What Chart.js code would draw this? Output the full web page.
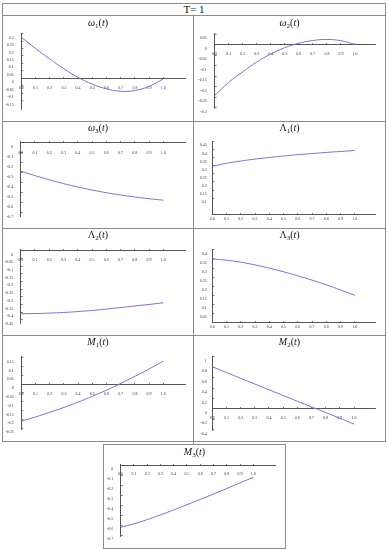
<!DOCTYPE html>
<html><head><meta charset="utf-8">
<script src="https://cdn.jsdelivr.net/npm/chart.js@4/dist/chart.umd.min.js"></script>
<style>
html,body{margin:0;padding:0;background:#fff;}
body{width:388px;height:550px;position:relative;overflow:hidden;font-family:"Liberation Serif","DejaVu Serif",serif;color:#111;}
.ln{position:absolute;background:#8c8c8c;}
.cell{position:absolute;}
.cell canvas{position:absolute;left:0;top:0;}
.ttl{position:absolute;text-align:center;font-size:10px;line-height:10px;white-space:nowrap;transform:translate(-50%,-50%);}
.ttl sub{font-size:7px;vertical-align:-2px;line-height:0;}
.hdr{position:absolute;left:194px;top:9px;transform:translate(-50%,-50%);font-size:11px;line-height:11px;white-space:nowrap;}
</style>
</head><body>
<div class="hdr">T= 1</div>
<script>
// ---- data ----
const tValues = [0, 0.1, 0.2, 0.3, 0.4, 0.5, 0.6, 0.7, 0.8, 0.9, 1.0];
const omega1  = [0.275, 0.200, 0.130, 0.063, 0.005, -0.040, -0.072, -0.088, -0.083, -0.055, -0.005];
const omega2  = [-0.242, -0.180, -0.130, -0.083, -0.045, -0.015, 0.006, 0.019, 0.024, 0.018, 0.000];
const omega3  = [-0.285, -0.330, -0.372, -0.410, -0.444, -0.474, -0.501, -0.524, -0.544, -0.561, -0.576];
const lambda1 = [0.296, 0.315, 0.329, 0.341, 0.351, 0.360, 0.368, 0.375, 0.382, 0.388, 0.394];
const lambda2 = [-0.410, -0.409, -0.406, -0.402, -0.396, -0.389, -0.380, -0.370, -0.360, -0.350, -0.339];
const lambda3 = [0.350, 0.343, 0.332, 0.317, 0.299, 0.279, 0.257, 0.233, 0.207, 0.179, 0.149];
const m1      = [-0.210, -0.186, -0.160, -0.132, -0.102, -0.069, -0.034, 0.004, 0.044, 0.086, 0.130];
const m2      = [0.810, 0.698, 0.587, 0.477, 0.367, 0.258, 0.149, 0.040, -0.068, -0.177, -0.290];
const m3      = [-0.623, -0.588, -0.546, -0.499, -0.449, -0.397, -0.344, -0.290, -0.235, -0.179, -0.123];

const xTicks  = [0, 0.1, 0.2, 0.3, 0.4, 0.5, 0.6, 0.7, 0.8, 0.9, 1.0];
const yTicks1 = [0.3, 0.25, 0.2, 0.15, 0.1, 0.05, 0, -0.05, -0.1, -0.15];
const yTicks2 = [0.05, 0, -0.05, -0.1, -0.15, -0.2, -0.25, -0.3];
const yTicks3 = [0, -0.1, -0.2, -0.3, -0.4, -0.5, -0.6, -0.7];
const yTicks4 = [0.45, 0.4, 0.35, 0.3, 0.25, 0.2, 0.15, 0.1];
const yTicks5 = [0, -0.05, -0.1, -0.15, -0.2, -0.25, -0.3, -0.35, -0.4, -0.45];
const yTicks6 = [0.4, 0.35, 0.3, 0.25, 0.2, 0.15, 0.1, 0.05];
const yTicks7 = [0.15, 0.1, 0.05, 0, -0.05, -0.1, -0.15, -0.2, -0.25];
const yTicks8 = [1, 0.8, 0.6, 0.4, 0.2, 0, -0.2, -0.4];
const yTicks9 = [0, -0.1, -0.2, -0.3, -0.4, -0.5, -0.6, -0.7];

const titles = [
  '<i>ω</i><sub>1</sub>(<i>t</i>)', '<i>ω</i><sub>2</sub>(<i>t</i>)', '<i>ω</i><sub>3</sub>(<i>t</i>)',
  'Λ<sub>1</sub>(<i>t</i>)', 'Λ<sub>2</sub>(<i>t</i>)', 'Λ<sub>3</sub>(<i>t</i>)',
  '<i>M</i><sub>1</sub>(<i>t</i>)', '<i>M</i><sub>2</sub>(<i>t</i>)', '<i>M</i><sub>3</sub>(<i>t</i>)'
];

// ---- layout (page pixels) ----
const lines = [
  [2,3,384,1],[2,441,384,1],[2,3,1,439],[385,3,1,439],
  [2,15,384,1],[2,121,384,1],[2,228,384,1],[2,335,384,1],
  [193,15,1,430],
  [103,444,183,1],[103,548,183,1],[103,444,1,105],[285,444,1,105]
];
lines.forEach(([x,y,w,h])=>{
  const d=document.createElement('div'); d.className='ln';
  d.style.cssText=`left:${x}px;top:${y}px;width:${w}px;height:${h}px`;
  document.body.appendChild(d);
});

const panels = [
  {vals:omega1,  yt:yTicks1, cell:[3,16,190,105],   area:{l:21.3,t:33,r:185,b:115},      y:[-0.208,0.304], xMax:1.153, ty:23,    xPad:9,   yGap:9.5},
  {vals:omega2,  yt:yTicks2, cell:[194,16,191,105], area:{l:214.7,t:33.9,r:375.7,b:112.1}, y:[-0.305,0.0505], xMax:1.148, ty:23, xPad:9,   yGap:10},
  {vals:omega3,  yt:yTicks3, cell:[3,122,190,106],  area:{l:20.7,t:141.6,r:185,b:220},   y:[-0.735,0.01], xMax:1.152, ty:127.5, xPad:9.5, yGap:9.5},
  {vals:lambda1, yt:yTicks4, cell:[194,122,191,106],area:{l:212.3,t:141.1,r:375.7,b:214.3}, y:[0,0.452], xMax:1.147, ty:127.5, xPad:4.7, yGap:7.5},
  {vals:lambda2, yt:yTicks5, cell:[3,229,190,106],  area:{l:20.7,t:249.4,r:185,b:327.9}, y:[-0.471,0.008], xMax:1.152, ty:235, xPad:9,   yGap:9.5},
  {vals:lambda3, yt:yTicks6, cell:[194,229,191,106],area:{l:212.3,t:249,r:375.7,b:322.3}, y:[0,0.405], xMax:1.147, ty:235,   xPad:4.7, yGap:7.5},
  {vals:m1,      yt:yTicks7, cell:[3,336,190,105],  area:{l:21.3,t:356.8,r:185,b:435.9}, y:[-0.255,0.155], xMax:1.153, ty:341.5, xPad:9,  yGap:9.5},
  {vals:m2,      yt:yTicks8, cell:[194,336,191,105],area:{l:212.3,t:356.2,r:375.7,b:430.4}, y:[-0.41,1.01], xMax:1.153, ty:341.5, xPad:9,  yGap:7.5},
  {vals:m3,      yt:yTicks9, cell:[104,445,181,103],area:{l:120.7,t:464,r:275,b:536},    y:[-0.71,0.01], xMax:1.164, ty:452,   xPad:8.5, yGap:9.5}
];

function fmtY(v){ const r = Math.round(v*1000)/1000; return r===0 ? '0' : String(r); }

const tickFont = {family:'"Liberation Serif", serif', size:4};
const axisColor = '#555';

panels.forEach((p, i) => {
  const [cx, cy, cw, ch] = p.cell;
  const wrap = document.createElement('div');
  wrap.className = 'cell';
  wrap.style.cssText = `left:${cx}px;top:${cy}px;width:${cw}px;height:${ch}px`;
  const cv = document.createElement('canvas');
  cv.width = cw; cv.height = ch;
  cv.style.width = cw+'px'; cv.style.height = ch+'px';
  wrap.appendChild(cv);
  document.body.appendChild(wrap);

  const tt = document.createElement('div');
  tt.className = 'ttl';
  tt.innerHTML = titles[i];
  tt.style.left = (cx + cw/2) + 'px';
  tt.style.top = p.ty + 'px';
  document.body.appendChild(tt);

  const a = p.area;
  const yAxisWidth = a.l - cx;
  new Chart(cv, {
    type: 'line',
    data: {
      datasets: [{
        data: tValues.map((t, k) => ({x: t, y: p.vals[k]})),
        borderColor: '#7474d6',
        borderWidth: 1,
        pointRadius: 0,
        tension: 0.4,
        fill: false
      }]
    },
    options: {
      responsive: false,
      animation: false,
      devicePixelRatio: 1,
      events: [],
      layout: {padding: {left: 0, top: a.t - cy, right: (cx + cw) - a.r, bottom: (cy + ch) - a.b}},
      plugins: {legend: {display: false}, tooltip: {enabled: false}, title: {display: false}},
      scales: {
        x: {
          type: 'linear', min: 0, max: p.xMax,
          position: {y: 0},
          afterBuildTicks: s => { s.ticks = xTicks.map(v => ({value: v})); },
          ticks: {font: tickFont, color: '#333', padding: p.xPad, maxRotation: 0, autoSkip: false,
                  callback: v => v.toFixed(1)},
          grid: {drawOnChartArea: false, tickLength: -2, color: axisColor, lineWidth: 0.8},
          border: {color: axisColor, width: 1}
        },
        y: {
          type: 'linear', min: p.y[0], max: p.y[1],
          position: 'left',
          afterFit: s => { s.width = yAxisWidth; },
          afterBuildTicks: s => { s.ticks = p.yt.map(v => ({value: v})); },
          ticks: {font: tickFont, color: '#333', padding: p.yGap, labelOffset: 4, autoSkip: false,
                  callback: v => fmtY(v)},
          grid: {drawOnChartArea: false, tickLength: -2, color: axisColor, lineWidth: 0.8},
          border: {color: axisColor, width: 1}
        }
      }
    }
  });
});
</script>
</body></html>
